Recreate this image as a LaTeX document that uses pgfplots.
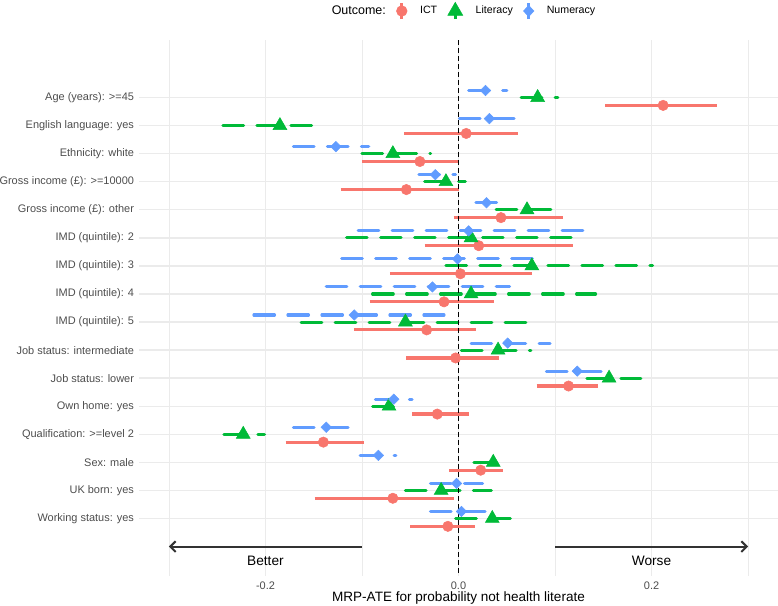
\documentclass[border=0pt]{standalone}
\usepackage{pgfplots}
\pgfplotsset{compat=1.18}
\usepackage{pgfplotstable}
\usepackage{fontspec}
\setmainfont{Liberation Sans}
\usetikzlibrary{arrows.meta}

\definecolor{ictcol}{HTML}{F8766D}
\definecolor{litcol}{HTML}{00BA38}
\definecolor{numcol}{HTML}{619CFF}
\definecolor{gridcol}{HTML}{EBEBEB}
\definecolor{labcol}{HTML}{4D4D4D}
\definecolor{arrcol}{HTML}{333333}

% pos = row of the covariate (1 = top), est = MRP-ATE, lo/hi = interval
\pgfplotstableread{
pos est lo hi
1 0.212 0.152 0.268
2 0.008 -0.056 0.062
3 -0.040 -0.100 -0.001
4 -0.054 -0.122 0.000
5 0.044 -0.005 0.108
6 0.021 -0.035 0.119
7 0.002 -0.071 0.076
8 -0.015 -0.092 0.037
9 -0.033 -0.108 0.018
10 -0.003 -0.054 0.042
11 0.114 0.081 0.145
12 -0.022 -0.048 0.011
13 -0.140 -0.179 -0.098
14 0.023 -0.010 0.046
15 -0.068 -0.149 -0.005
16 -0.011 -0.050 0.017
}\ict

\pgfplotstableread{
pos est lo hi
1 0.082 0.065 0.103
2 -0.185 -0.244 -0.146
3 -0.068 -0.100 -0.029
4 -0.013 -0.035 0.007
5 0.071 0.039 0.102
6 0.013 -0.116 0.127
7 0.076 -0.013 0.201
8 0.013 -0.089 0.142
9 -0.055 -0.163 0.076
10 0.041 0.003 0.075
11 0.156 0.133 0.189
12 -0.072 -0.089 -0.056
13 -0.223 -0.243 -0.201
14 0.036 0.016 0.050
15 -0.018 -0.055 0.034
16 0.035 -0.003 0.063
}\lit

\pgfplotstableread{
pos est lo hi
1 0.028 0.0105 0.050
2 0.032 0.001 0.062
3 -0.127 -0.171 -0.093
4 -0.024 -0.041 -0.003
5 0.029 0.018 0.042
6 0.0105 -0.104 0.133
7 -0.001 -0.121 0.082
8 -0.027 -0.137 0.053
9 -0.108 -0.212 -0.015
10 0.051 0.013 0.095
11 0.123 0.091 0.152
12 -0.067 -0.086 -0.048
13 -0.137 -0.171 -0.111
14 -0.083 -0.102 -0.065
15 -0.002 -0.029 0.025
16 0.003 -0.029 0.029
}\num

\begin{document}
\begin{tikzpicture}
\useasboundingbox (0,0) rectangle (583.5bp,454.5bp);
\begin{axis}[
  at={(104.25bp,22.5bp)}, anchor=south west,
  scale only axis, width=479.25bp, height=402bp,
  xmin=-0.331, xmax=0.331,
  ymin=-1.05, ymax=18.05, y dir=reverse,
  axis line style={draw=none},
  major tick length=0pt, minor tick length=0pt,
  xtick pos=bottom, ytick pos=left,
  xtick={-0.2,0,0.2}, xticklabels={-0.2,0.0,0.2},
  minor xtick={-0.3,-0.1,0.1,0.3},
  ytick={1,...,16},
  yticklabels={Age (years): >=45, English language: yes, Ethnicity: white,
    Gross income (£): >=10000, Gross income (£): other, IMD (quintile): 2,
    IMD (quintile): 3, IMD (quintile): 4, IMD (quintile): 5,
    Job status: intermediate, Job status: lower, Own home: yes,
    Qualification: >=level 2, Sex: male, UK born: yes, Working status: yes},
  xmajorgrids, xminorgrids, ymajorgrids,
  major grid style={gridcol, line width=1.07bp},
  minor grid style={gridcol, line width=0.55bp},
  tick label style={font=\fontsize{8.25}{9.9}\selectfont, text=labcol},
  y tick label style={xshift=-0.25bp},
  x tick label style={yshift=-0.5bp},
  xlabel={MRP-ATE for probability not health literate},
  xlabel style={font=\fontsize{10.2}{12}\selectfont, at={(axis description cs:0.5,0)}, anchor=center, yshift=-16.5bp},
  clip=false,
  legend style={at={(0.5,1.0541)}, anchor=center, draw=none, fill=none,
    legend columns=-1, font=\fontsize{8}{9.6}\selectfont, inner sep=0pt,
    /tikz/every odd column/.append style={column sep=7.5bp},
    /tikz/every even column/.append style={column sep=5.75bp}},
  legend cell align=left,
]
% legend entries
\addlegendimage{empty legend}
\addlegendentry{\fontsize{9.4}{11}\selectfont Outcome:\hspace{4.25bp}}
\addlegendimage{legend image code/.code={
  \draw[ictcol, line width=2.3bp] (0bp,-6bp) -- (0bp,6bp);
  \fill[ictcol] (0bp,0bp) circle (4bp);}}
\addlegendentry{ICT}
\addlegendimage{legend image code/.code={
  \draw[litcol, line width=2.3bp] (0bp,-6bp) -- (0bp,3bp);
  \fill[litcol] (90:6.5bp) -- (210:6.5bp) -- (330:6.5bp) -- cycle;}}
\addlegendentry{Literacy}
\addlegendimage{legend image code/.code={
  \draw[numcol, line width=2.3bp] (0bp,-6bp) -- (0bp,6bp);
  \fill[numcol] (0bp,4.2bp) -- (3.9bp,0bp) -- (0bp,-4.2bp) -- (-3.9bp,0bp) -- cycle;}}
\addlegendentry{Numeracy}

% direction arrows and labels
\addplot[arrcol, line width=1.5bp, -{Straight Barb[length=4bp,width=8bp]}, forget plot] coordinates {(-0.1,17) (-0.3,17)};
\addplot[arrcol, line width=1.5bp, -{Straight Barb[length=4bp,width=8bp]}, forget plot] coordinates {(0.1,17) (0.3,17)};
\node[font=\fontsize{10.3}{12}\selectfont] at (axis cs:-0.2,17.52) {Better};
\node[font=\fontsize{10.3}{12}\selectfont] at (axis cs:0.2,17.52) {Worse};

% interval lines
\addplot[ictcol, line width=2.4bp, forget plot,
  quiver={u=\thisrow{hi}-\thisrow{lo}, v=0}]
  table[x=lo, y expr=\thisrow{pos}+0.28] {\ict};
\addplot[litcol, line width=2.3bp, line cap=round, dash pattern=on 15.5bp off 10bp, forget plot,
  quiver={u=\thisrow{hi}-\thisrow{lo}, v=0}]
  table[x=lo, y expr=\thisrow{pos}] {\lit};
\addplot[numcol, line width=2.3bp, line cap=round, dash pattern=on 15.5bp off 10bp, forget plot,
  quiver={u=\thisrow{hi}-\thisrow{lo}, v=0}]
  table[x=lo, y expr=\thisrow{pos}-0.25] {\num};

% point estimates
\addplot[only marks, mark=*, ictcol, mark size=3.9bp, forget plot]
  table[x=est, y expr=\thisrow{pos}+0.28] {\ict};
\addplot[only marks, mark=triangle*, litcol, mark size=6bp, forget plot]
  table[x=est, y expr=\thisrow{pos}] {\lit};
\addplot[only marks, mark=diamond*, numcol, mark size=3.9bp, mark options={xscale=1.33}, forget plot]
  table[x=est, y expr=\thisrow{pos}-0.25] {\num};

% reference line at zero
\addplot[black, line width=1bp, dash pattern=on 3.5bp off 2.5bp, forget plot] coordinates {(0,-1.05) (0,18.05)};
\end{axis}
\end{tikzpicture}
\end{document}
